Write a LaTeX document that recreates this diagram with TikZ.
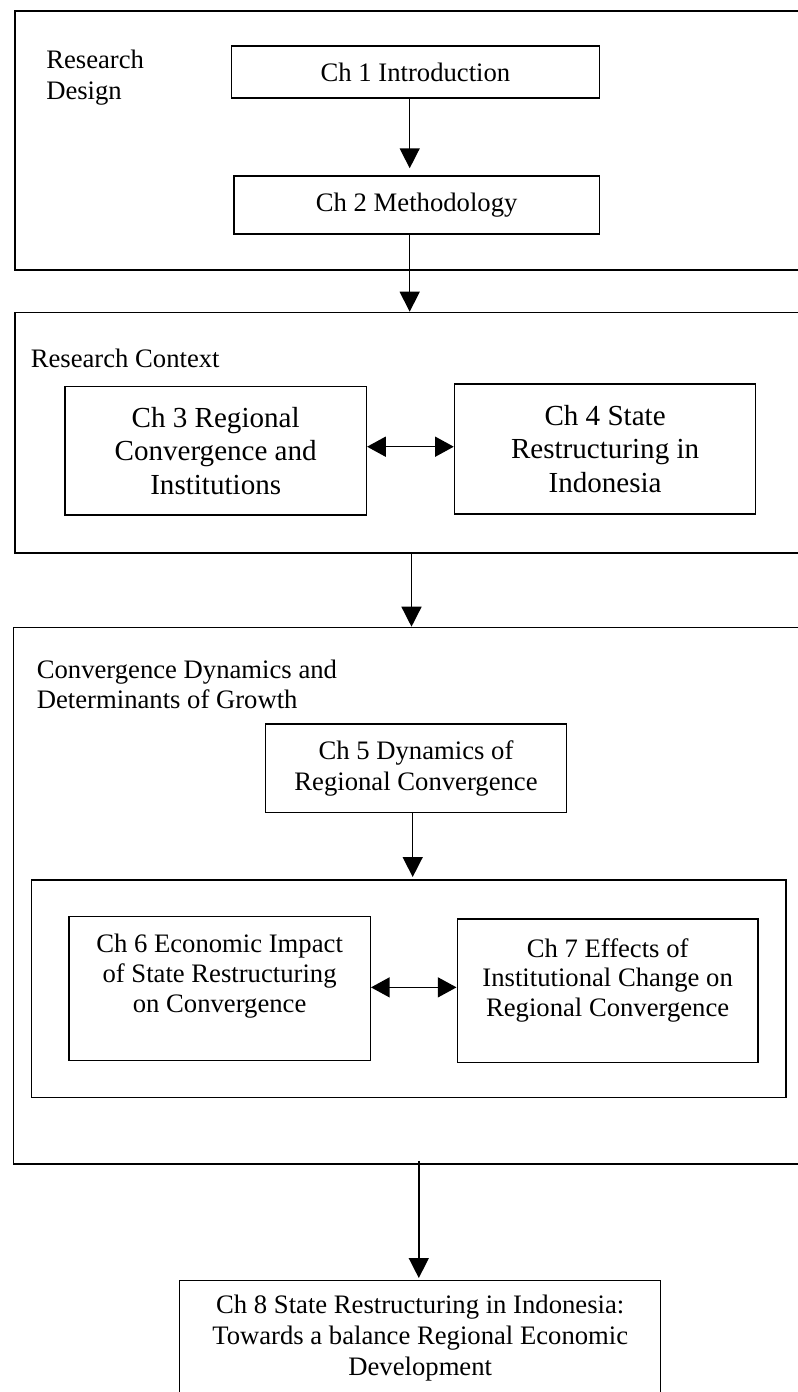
\documentclass[tikz,border=0pt]{standalone}
\usepackage{fontspec}
\setmainfont{Liberation Serif}
\usetikzlibrary{arrows.meta,calc}
\begin{document}
\begin{tikzpicture}[x=0.75pt,y=-0.75pt,
  chap/.style={draw, line width=1.1pt, inner sep=0pt, align=center,
               font=\fontsize{20}{23.25}\selectfont},
  bigchap/.style={chap, font=\fontsize{21.8}{25}\selectfont},
  topchap/.style={draw, line width=1.1pt, inner sep=0pt, anchor=north west},
  group/.style={draw, line width=1.2pt, inner sep=0pt, anchor=north west},
  grouplabel/.style={anchor=north west, inner sep=0pt, align=left,
               font=\fontsize{20}{23}\selectfont},
  arr/.style={line width=1.1pt, -{Triangle[length=15pt,width=15pt]}},
  darr/.style={line width=1.1pt,
               {Triangle[length=14pt,width=15pt]}-{Triangle[length=14pt,width=15pt]}}]

\useasboundingbox (0,0) rectangle (798,1392);
\clip (0,0) rectangle (798,1392);

% section frames (their right sides run past the page edge)
\node[group, minimum width=612pt, minimum height=194.25pt] (design) at (14,10) {};
\node[group, minimum width=612pt, minimum height=180.45pt] (context) at (14,311.7) {};
\node[group, minimum width=613pt, minimum height=402.45pt] (analysis) at (12.7,626.7) {};
\node[group, minimum width=565.9pt, minimum height=163.3pt] (impact) at (30.5,879) {};

% section titles
\node[grouplabel] (designlabel) at (46,50) {Research\\Design};
\node[grouplabel] (contextlabel) at (30.5,348.5) {Research Context};
\node[grouplabel] (analysislabel) at (36.6,659.5) {Convergence Dynamics and\\Determinants of Growth};

% chapters
\node[chap, minimum width=276pt, minimum height=39pt] (ch1) at (415.5,72) {Ch 1 Introduction};
\node[chap, minimum width=274.1pt, minimum height=43.5pt] (ch2) at (416.7,205) {Ch 2 Methodology};
\node[bigchap, minimum width=226pt, minimum height=96.2pt] (ch3) at (215.7,450.8)
  {Ch 3 Regional\\Convergence and\\Institutions};
\node[bigchap, minimum width=225.9pt, minimum height=97.5pt] (ch4) at (605.1,449)
  {Ch 4 State\\Restructuring in\\Indonesia};
\node[chap, minimum width=225.6pt, minimum height=66.2pt] (ch5) at (416,768.2)
  {Ch 5 Dynamics of\\Regional Convergence};
\node[topchap] (ch6) at (68.2,915.7)
  {\parbox[c][108.2pt][t]{226pt}{\centering\fontsize{20}{22.5}\selectfont
   \vspace*{13pt}Ch 6 Economic Impact\\of State Restructuring\\on Convergence\par}};
\node[topchap] (ch7) at (456.5,918.3)
  {\parbox[c][107.6pt][t]{225.6pt}{\centering\fontsize{20}{22.2}\selectfont
   \vspace*{14.5pt}Ch 7 Effects of\\Institutional Change on\\Regional Convergence\par}};
\node[topchap] (ch8) at (179,1280)
  {\parbox[c][120pt][t]{360.75pt}{\centering\fontsize{20}{23.25}\selectfont
   \vspace*{11pt}Ch 8 State Restructuring in Indonesia:\\Towards a balance Regional Economic\\Development\par}};

% flow
\draw[arr] ($(ch1.south)+(-5.8,0)$) coordinate (s1) -- ($(s1 |- ch2.north)+(0,-7)$);
\draw[arr] ($(ch2.south)+(-7,0)$) coordinate (s2) -- (s2 |- context.north);
\draw[arr] ($(context.south west)+(397.5,0)$) coordinate (s3) -- (s3 |- analysis.north);
\draw[arr] ($(ch5.south)+(-3.3,0)$) coordinate (s4) -- ($(s4 |- impact.north)+(0,-2)$);
\draw[arr] ($(analysis.south west)+(406.1,-4)$) coordinate (s5) -- ($(s5 |- ch8.north)+(0,-2)$);
\draw[darr] ($(ch3.east)+(0,-4.1)$) coordinate (s6) -- (s6 -| ch4.west);
\draw[darr] ($(ch6.east)+(0,-1.2)$) coordinate (s7) -- (s7 -| ch7.west);
\end{tikzpicture}
\end{document}
